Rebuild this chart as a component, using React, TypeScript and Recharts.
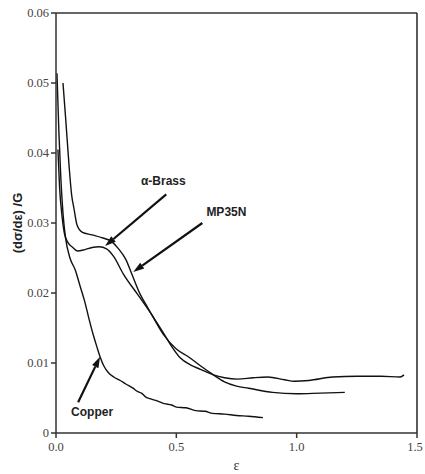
import { LineChart, Line, XAxis, YAxis, ReferenceLine, ReferenceDot } from 'recharts'

// strain values / normalised hardening rate
const copperEps = [0.004, 0.012, 0.02, 0.03, 0.04, 0.058, 0.08, 0.1, 0.12, 0.135, 0.155, 0.17, 0.183, 0.2, 0.218, 0.24, 0.267, 0.29, 0.32, 0.34, 0.355, 0.375, 0.39, 0.42, 0.45, 0.48, 0.5, 0.54, 0.58, 0.62, 0.65, 0.7, 0.75, 0.8, 0.86]
const copperVal = [0.0514, 0.043, 0.0365, 0.031, 0.0278, 0.025, 0.0233, 0.021, 0.0187, 0.0166, 0.014, 0.0123, 0.0109, 0.0095, 0.0086, 0.008, 0.0075, 0.007, 0.0064, 0.0059, 0.0057, 0.0051, 0.0049, 0.0046, 0.0042, 0.0040, 0.0037, 0.0036, 0.0032, 0.0031, 0.0028, 0.0027, 0.0025, 0.0024, 0.0022]

const brassEps = [0.008, 0.015, 0.025, 0.035, 0.05, 0.07, 0.09, 0.12, 0.15, 0.18, 0.21, 0.24, 0.28, 0.337, 0.38, 0.446, 0.48, 0.517, 0.56, 0.6, 0.654, 0.7, 0.754, 0.82, 0.88, 0.95, 0.99, 1.05, 1.15, 1.25, 1.35, 1.43, 1.446]
const brassVal = [0.0405, 0.035, 0.031, 0.0285, 0.0272, 0.0265, 0.026, 0.0262, 0.0265, 0.0266, 0.0263, 0.0252, 0.0227, 0.0199, 0.0178, 0.0143, 0.0124, 0.0107, 0.0097, 0.0091, 0.0083, 0.0079, 0.0077, 0.0079, 0.008, 0.0076, 0.0074, 0.0075, 0.008, 0.0081, 0.0081, 0.008, 0.0083]

const mpEps = [0.029, 0.04, 0.054, 0.065, 0.075, 0.0875, 0.108, 0.15, 0.19, 0.233, 0.26, 0.29, 0.315, 0.35, 0.38, 0.446, 0.5, 0.55, 0.6, 0.654, 0.7, 0.75, 0.8, 0.9, 1.0, 1.1, 1.2]
const mpVal = [0.05, 0.045, 0.0383, 0.034, 0.032, 0.0297, 0.0287, 0.0283, 0.0279, 0.0273, 0.0263, 0.0248, 0.0227, 0.0198, 0.018, 0.0141, 0.012, 0.0109, 0.0096, 0.0083, 0.0073, 0.0067, 0.0064, 0.0058, 0.0056, 0.0057, 0.0058]

const xTicks = [0, 0.5, 1.0, 1.5]
const yTicks = [0, 0.01, 0.02, 0.03, 0.04, 0.05, 0.06]

const toRows = (xs: number[], ys: number[]) => xs.map((e, i) => ({ eps: e, v: ys[i] }))
const copper = toRows(copperEps, copperVal)
const brass = toRows(brassEps, brassVal)
const mp35n = toRows(mpEps, mpVal)

// label position + arrow tail/tip, in data units
const notes = [
  { text: 'α-Brass', at: [0.446, 0.0361], from: [0.458, 0.0341], to: [0.204, 0.0267] },
  { text: 'MP35N', at: [0.708, 0.0316], from: [0.608, 0.030], to: [0.321, 0.023] },
  { text: 'Copper', at: [0.15, 0.003], from: [0.092, 0.0044], to: [0.183, 0.0109] },
]

const serif = '"Liberation Serif", "Times New Roman", serif'
const sans = '"Liberation Sans", Arial, sans-serif'
const noteStyle = { fontFamily: sans, fontSize: 12, fontWeight: 700, fill: '#222' }

function Arrow(p: any) {
  const { x1, y1, x2, y2 } = p
  const dx = x2 - x1
  const dy = y2 - y1
  const len = Math.sqrt(dx * dx + dy * dy)
  const ux = dx / len
  const uy = dy / len
  const hl = 11
  const hw = 3.5
  const bx = x2 - ux * hl
  const by = y2 - uy * hl
  const pts = `${x2},${y2} ${bx - uy * hw},${by + ux * hw} ${bx + uy * hw},${by - ux * hw}`
  return (
    <g>
      <line x1={x1} y1={y1} x2={bx} y2={by} stroke="#111" strokeWidth={2.2} />
      <polygon points={pts} fill="#111" />
    </g>
  )
}

function XTick({ x, y, payload }: any) {
  return (
    <text x={x} y={y + 11} textAnchor="middle" fontFamily={serif} fontSize={12.5} fill="#444">
      {payload.value.toFixed(1)}
    </text>
  )
}

function YTick({ x, y, payload }: any) {
  const v = payload.value
  return (
    <text x={x} y={y + 4} textAnchor="end" fontFamily={serif} fontSize={12.5} fill="#444">
      {v === 0 ? '0' : v.toFixed(2)}
    </text>
  )
}

function YLabel({ viewBox }: any) {
  const cx = viewBox.x + 17
  const cy = viewBox.y + viewBox.height / 2
  return (
    <text x={cx} y={cy} transform={`rotate(-90 ${cx} ${cy})`} textAnchor="middle" dominantBaseline="central" fontFamily={sans} fontSize={13} fontWeight={700} fill="#222">
      (dσ/dε) /G
    </text>
  )
}

export default function App() {
  return (
    <div style={{ position: 'fixed', left: 0, top: 0, background: '#fff' }}>
      <LineChart width={425} height={474} margin={{ top: 13, right: 8, bottom: 0, left: 0 }}>
        <XAxis
          dataKey="eps"
          type="number"
          domain={[0, 1.5]}
          ticks={xTicks}
          tick={<XTick />}
          tickSize={5}
          tickMargin={2}
          height={41}
          stroke="#333"
          strokeWidth={1.5}
          allowDuplicatedCategory={false}
          label={{ value: 'ε', position: 'insideBottom', offset: 4, style: { fontFamily: serif, fontSize: 14, fill: '#333' } }}
        />
        <YAxis
          type="number"
          domain={[0, 0.06]}
          ticks={yTicks}
          tick={<YTick />}
          tickSize={5}
          tickMargin={2}
          width={56}
          stroke="#333"
          strokeWidth={1.5}
          label={<YLabel />}
        />
        <ReferenceLine y={0.06} stroke="#333" strokeWidth={1.6} />
        <ReferenceLine x={1.5} stroke="#333" strokeWidth={1.6} />
        <Line data={copper} dataKey="v" type="monotone" stroke="#111" strokeWidth={1.4} dot={false} isAnimationActive={false} />
        <Line data={brass} dataKey="v" type="monotone" stroke="#111" strokeWidth={1.4} dot={false} isAnimationActive={false} />
        <Line data={mp35n} dataKey="v" type="monotone" stroke="#111" strokeWidth={1.4} dot={false} isAnimationActive={false} />
        {notes.map((n) => (
          <ReferenceLine
            key={n.text + '-arrow'}
            segment={[{ x: n.from[0], y: n.from[1] }, { x: n.to[0], y: n.to[1] }]}
            shape={Arrow}
          />
        ))}
        {notes.map((n) => (
          <ReferenceDot
            key={n.text}
            x={n.at[0]}
            y={n.at[1]}
            r={0}
            fill="none"
            stroke="none"
            label={{ value: n.text, position: 'center', style: noteStyle }}
          />
        ))}
      </LineChart>
    </div>
  )
}
